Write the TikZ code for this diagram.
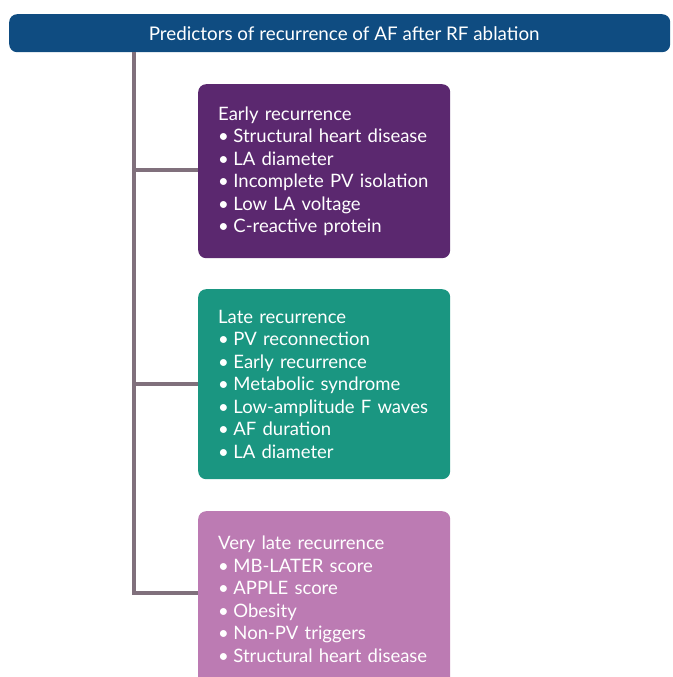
\documentclass[tikz,border=0pt]{standalone}
\usepackage{fontspec}
\setmainfont{Lato}
\definecolor{hdr}{HTML}{0F4C81}
\definecolor{purp}{HTML}{5B286F}
\definecolor{teal2}{HTML}{1A9681}
\definecolor{pink2}{HTML}{BC7BB3}
\definecolor{trunkc}{HTML}{80707C}
\newcommand{\bul}{\textbullet\hspace{4.5pt}}
\begin{document}
\begin{tikzpicture}[x=1pt,y=-1pt,
  header/.style={fill=hdr,rounded corners=8pt,text=white,minimum width=661pt,minimum height=38pt,anchor=north west,inner sep=0pt,font=\fontsize{18.8}{22}\selectfont},
  catbox/.style={rounded corners=8pt,text=white,minimum width=252pt,text width=212pt,align=left,inner xsep=20pt,inner ysep=0pt,anchor=north west,font=\fontsize{18.5}{22.5}\selectfont},
  conn/.style={draw=trunkc,line width=4pt}]
\useasboundingbox (0,0) rectangle (672,677);
\node[header] (head) at (9,14) {\hspace*{9pt}Predictors of recurrence of AF after RF ablation};
\node[catbox,fill=purp,minimum height=174pt] (b1) at (198,84) {Early recurrence\\
\bul Structural heart disease\\
\bul LA diameter\\
\bul Incomplete PV isolation\\
\bul Low LA voltage\\
\bul C-reactive protein};
\node[catbox,fill=teal2,minimum height=190pt] (b2) at (198,289) {Late recurrence\\
\bul PV reconnection\\
\bul Early recurrence\\
\bul Metabolic syndrome\\
\bul Low-amplitude F waves\\
\bul AF duration\\
\bul LA diameter};
\node[catbox,fill=pink2,minimum height=176pt] (b3) at (198,511) {Very late recurrence\\
\bul MB-LATER score\\
\bul APPLE score\\
\bul Obesity\\
\bul Non-PV triggers\\
\bul Structural heart disease};
\coordinate (top) at (134,52);
\coordinate (b3in) at ([yshift=6pt]b3.west);
\draw[conn] (top) |- (b3in);
\draw[conn] ([yshift=1pt]b1.west -| top) -- ([yshift=1pt]b1.west);
\draw[conn] (b2.west -| top) -- (b2.west);
\end{tikzpicture}
\end{document}
